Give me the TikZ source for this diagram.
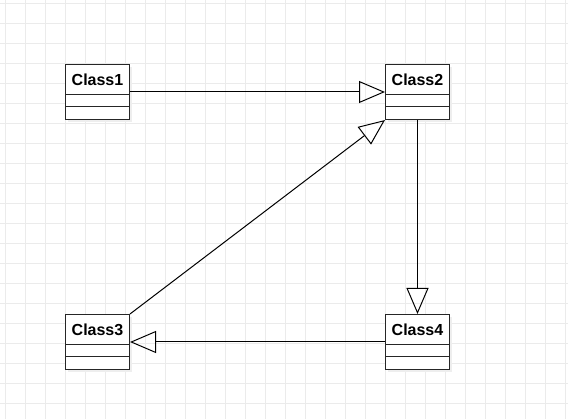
\documentclass[tikz,border=0pt]{standalone}
\usepackage{fontspec}
\setmainfont{Liberation Sans}
\usetikzlibrary{arrows.meta}
\definecolor{gridc}{HTML}{EBEBEB}
\definecolor{shadowc}{HTML}{EEEEEE}
\tikzset{
  classbox/.style={draw=black!85, line width=1pt, fill=white, minimum width=64pt, minimum height=55pt,
    inner sep=0pt, anchor=north west},
  inherit/.style={line width=1pt, -{Triangle[open, length=26pt, width=22pt, line width=1pt]}},
  classname/.style={font=\bfseries\fontsize{16}{18}\selectfont, inner sep=0pt}
}
\newcommand{\umlclass}[3]{%
  \fill[shadowc] (#1+3pt,-#2-3pt) rectangle ++(64pt,-55pt);
  \node[classbox] (#3) at (#1pt,-#2pt) {};
  \draw[line width=1pt, black!85] ([yshift=-31pt]#3.north west) -- ([yshift=-31pt]#3.north east);
  \draw[line width=1pt, black!85] ([yshift=-43pt]#3.north west) -- ([yshift=-43pt]#3.north east);
}
\begin{document}
\begin{tikzpicture}[x=1pt,y=1pt]
\useasboundingbox (0,0) rectangle (568,-419);
\fill[white] (0,0) rectangle (568,-419);
\foreach \x in {5,25,...,565} \draw[gridc, line width=1pt] (\x,0) -- (\x,-419);
\foreach \y in {4,24,...,404} \draw[gridc, line width=1pt] (0,-\y) -- (568,-\y);
\umlclass{65}{64}{c1}
\umlclass{385}{64}{c2}
\umlclass{65}{314}{c3}
\umlclass{385}{314}{c4}
\node[classname] (t1) at ([yshift=-15.5pt]c1.north) {Class1};
\node[classname] (t2) at ([yshift=-15.5pt]c2.north) {Class2};
\node[classname] (t3) at ([yshift=-15.5pt]c3.north) {Class3};
\node[classname] (t4) at ([yshift=-15.5pt]c4.north) {Class4};
\draw[inherit] (c1.east) -- (c2.west);
\draw[inherit] (c2.south) -- (c4.north);
\draw[inherit] (c4.west) -- (c3.east);
\draw[inherit] (c3.north east) -- (c2.south west);
\end{tikzpicture}
\end{document}
